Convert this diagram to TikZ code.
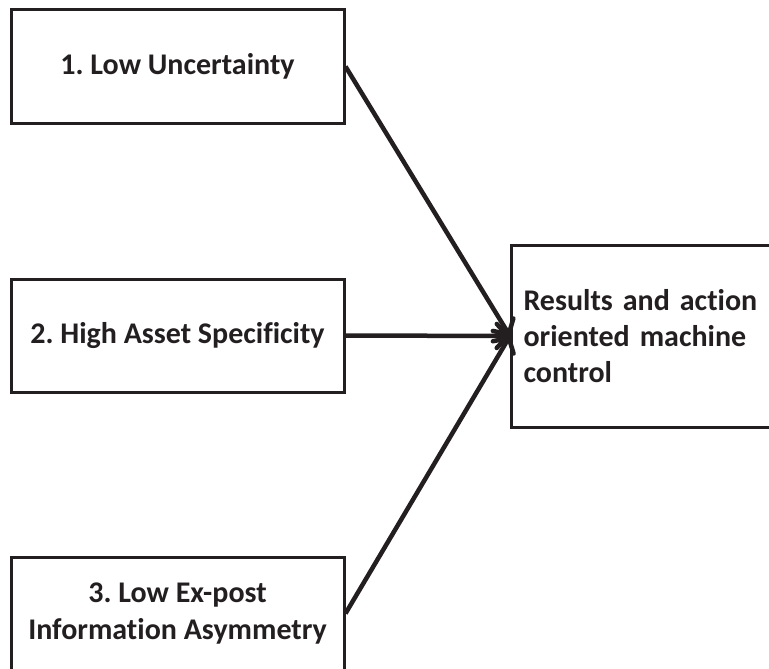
\documentclass[tikz,border=0pt]{standalone}
\usepackage{fontspec}
\setmainfont{Carlito}[Ligatures=NoCommon]
\frenchspacing
\usetikzlibrary{arrows.meta}
\definecolor{ink}{HTML}{231F20}
\begin{document}
\begin{tikzpicture}[x=1pt,y=-1pt,
  factor/.style={draw=ink, line width=3pt, minimum width=333pt, minimum height=113pt,
    inner sep=0pt, align=center, text=ink,
    font=\fontsize{30}{36.5}\selectfont\bfseries},
  outcome/.style={draw=ink, line width=3pt, minimum width=290pt, minimum height=182pt,
    inner xsep=12pt, inner ysep=0pt, text width=266pt, align=left, text=ink,
    font=\fontsize{30}{36}\selectfont\bfseries},
  link/.style={draw=ink, line width=4.5pt,
    -{Straight Barb[length=11pt,width=24pt,round]}}]
  \useasboundingbox (0,0) rectangle (769,669);
  \fill[white] (0,0) rectangle (769,669);

  \node[factor] (f1) at (177.5,66.5) {1. Low Uncertainty};
  \node[factor] (f2) at (177.5,335.5) {2. High Asset Specificity};
  \node[factor] (f3) at (177.5,613.5) {3. Low Ex-post\\Information Asymmetry};
  \node[outcome, anchor=west] (out) at (510,336)
    {Results and action\\oriented machine\\control};

  \draw[link] (f1.east) -- (out.west);
  \draw[link] (f2.east) -- (out.west);
  \draw[link] (f3.east) -- (out.west);
\end{tikzpicture}
\end{document}
